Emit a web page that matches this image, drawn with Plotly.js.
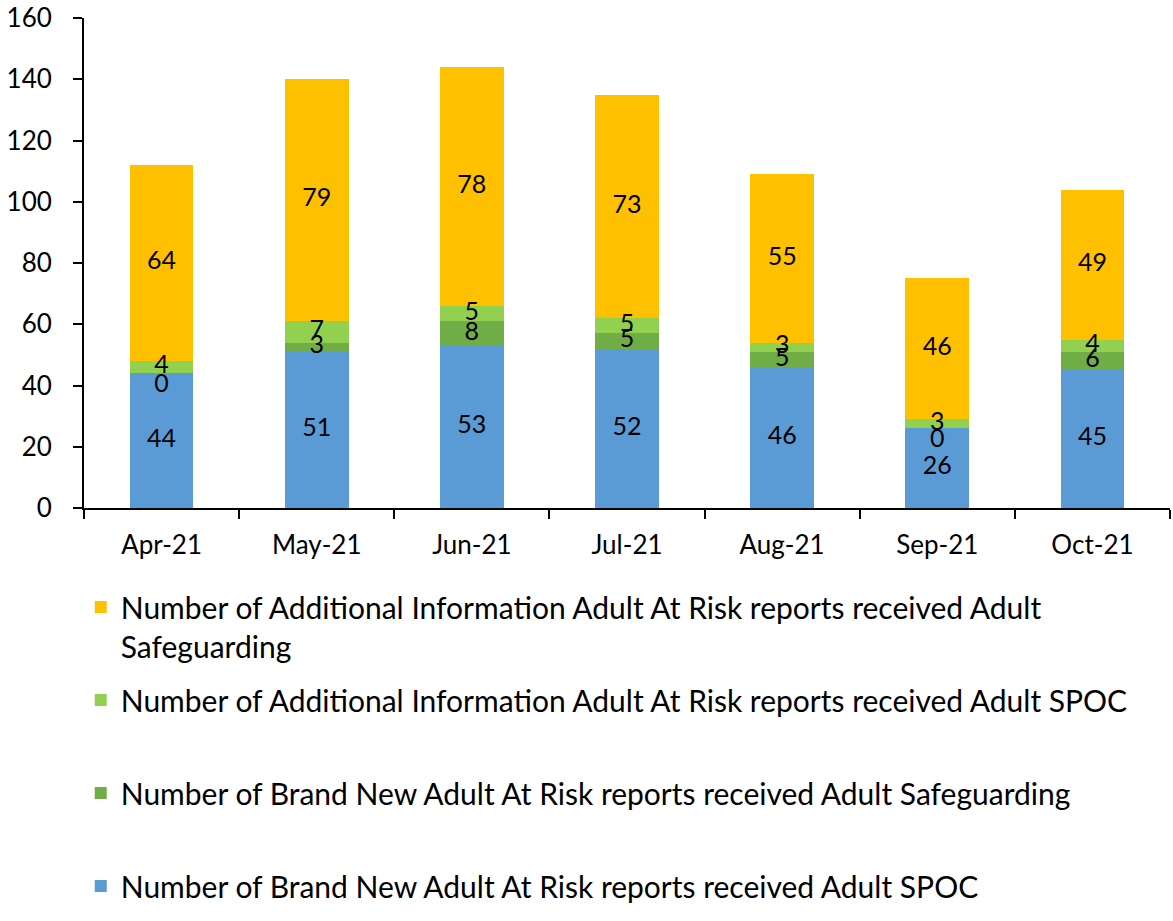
<!DOCTYPE html>
<html>
<head>
<meta charset="utf-8">
<script src="https://cdn.plot.ly/plotly-3.0.1.min.js"></script>
<style>html,body{margin:0;padding:0;background:#fff;}#chart{width:1173px;height:921px;}</style>
</head>
<body>
<div id="chart"></div>
<script>
const months = ["Apr-21","May-21","Jun-21","Jul-21","Aug-21","Sep-21","Oct-21"];
const newSpoc = [44,51,53,52,46,26,45];
const newSafeguarding = [0,3,8,5,5,0,6];
const addInfoSpoc = [4,7,5,5,3,3,4];
const addInfoSafeguarding = [64,79,78,73,55,46,49];

const names = [
  "Number of Brand New Adult At Risk reports received Adult SPOC",
  "Number of Brand New Adult At Risk reports received Adult Safeguarding<br> ",
  "Number of Additional Information Adult At Risk reports received Adult SPOC<br> ",
  "Number of Additional Information Adult At Risk reports received Adult<br>Safeguarding"
];
const colors = ["#5B9BD5","#70AD47","#92D050","#FFC000"];
const series = [newSpoc, newSafeguarding, addInfoSpoc, addInfoSafeguarding];

const FONT = "Lato, 'Noto Sans', sans-serif";
const traces = [];
const base = months.map(() => 0);
series.forEach((vals, i) => {
  traces.push({
    type: "bar", x: months, y: vals, name: names[i],
    marker: {color: colors[i], line: {width: 0}},
    legendgroup: "g" + i, legendrank: 10 - i, hoverinfo: "skip"
  });
});
series.forEach((vals, i) => {
  const mids = vals.map((v, j) => v === 0 ? base[j] : base[j] + v / 2);
  vals.forEach((v, j) => { base[j] += v; });
  traces.push({
    type: "scatter", mode: "text", x: months, y: mids,
    text: vals.map(String),
    textposition: vals.map(v => v === 0 ? "bottom center" : "middle center"),
    textfont: {family: FONT, size: 25, color: "#000"},
    showlegend: false, hoverinfo: "skip", cliponaxis: false
  });
});

const layout = {
  width: 1173, height: 921,
  margin: {l: 84, r: 3, t: 18, b: 413, autoexpand: false},
  paper_bgcolor: "#fff", plot_bgcolor: "#fff",
  barmode: "stack", bargap: 0.59,
  font: {family: FONT, color: "#000", size: 26},
  xaxis: {
    type: "category", showgrid: false, zeroline: false,
    showline: true, linecolor: "#000", linewidth: 2,
    ticks: "outside", ticklen: 9, tickwidth: 2, tickcolor: "#000",
    tickson: "boundaries", tickfont: {family: FONT, size: 26},
    ticklabelstandoff: 13, range: [-0.5, 6.5]
  },
  yaxis: {
    range: [0, 160], dtick: 20, showgrid: false, zeroline: false,
    showline: true, linecolor: "#000", linewidth: 2,
    ticks: "outside", ticklen: 9, tickwidth: 2, tickcolor: "#000",
    tickfont: {family: FONT, size: 26}, ticklabelstandoff: 16
  },
  showlegend: true,
  legend: {
    orientation: "v", x: -0.003, xanchor: "left", y: -0.149, yanchor: "top",
    traceorder: "grouped", tracegroupgap: 12, valign: "top",
    font: {family: FONT, size: 30, color: "#000"}, bgcolor: "rgba(0,0,0,0)"
  }
};

Plotly.newPlot("chart", traces, layout, {staticPlot: true, displayModeBar: false});
</script>
</body>
</html>
